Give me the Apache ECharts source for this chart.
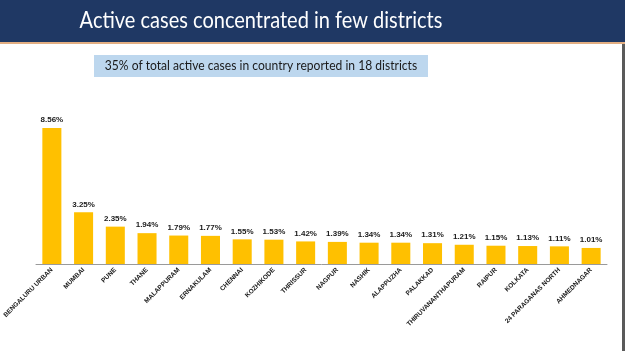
<!DOCTYPE html>
<html><head><meta charset="utf-8">
<script src="https://cdn.jsdelivr.net/npm/echarts@6/dist/echarts.min.js"></script>
<style>html,body{margin:0;padding:0;background:#fff}#c{width:625px;height:351px}</style>
</head><body><div id="c"></div>
<script>
var titleText = 'Active cases concentrated in few districts';
var subtitleText = '35% of total active cases in country reported in 18 districts';
var districts = ['BENGALURU URBAN','MUMBAI','PUNE','THANE','MALAPPURAM','ERNAKULAM','CHENNAI','KOZHIKODE','THRISSUR','NAGPUR','NASHIK','ALAPPUZHA','PALAKKAD','THIRUVANANTHAPURAM','RAIPUR','KOLKATA','24 PARAGANAS NORTH','AHMEDNAGAR'];
var shares = [8.56,3.25,2.35,1.94,1.79,1.77,1.55,1.53,1.42,1.39,1.34,1.34,1.31,1.21,1.15,1.13,1.11,1.01];

var chart = echarts.init(document.getElementById('c'));
chart.setOption({
  animation: false,
  graphic: [
    {type:'rect', shape:{x:0,y:0,width:625,height:42}, style:{fill:'#1F3864'}, z:0},
    {type:'rect', shape:{x:0,y:42,width:625,height:2}, style:{fill:'#E2AE82'}, z:0},
    {type:'rect', shape:{x:622,y:44,width:3,height:307}, style:{fill:'#5a5a5a'}, z:0},
    {type:'rect', shape:{x:94,y:55,width:334,height:22}, style:{fill:'#BDD7EE'}, z:0},
    {type:'text', x:261, y:66, scaleX:0.93, style:{text:subtitleText, fill:'#1a1a1a', font:'13px Lato', align:'center', verticalAlign:'middle'}, z:1},
    {type:'text', x:261, y:21, scaleX:0.87, style:{text:titleText, fill:'#ffffff', font:'23px Lato', align:'center', verticalAlign:'middle'}, z:1}
  ],
  grid: {left:36, right:18, top:105, bottom:87},
  xAxis: {
    type:'category', data: districts,
    axisLine:{lineStyle:{color:'#9a9a9a'}},
    axisTick:{lineStyle:{color:'#9a9a9a'}, length:3},
    axisLabel:{rotate:45, interval:0, fontSize:6.5, fontWeight:'bold', color:'#1a1a1a', fontFamily:'Liberation Sans', margin:5}
  },
  yAxis: {type:'value', min:0, max:10, show:false, splitLine:{show:false}},
  series: [{
    type:'bar', data: shares, barWidth:'60%',
    itemStyle:{color:'#FFC000'},
    label:{show:true, position:'top', distance:4, formatter:function(p){return p.value.toFixed(2)+'%';}, fontSize:8, fontWeight:'bold', color:'#1a1a1a', fontFamily:'Liberation Sans'}
  }]
});
</script></body></html>
